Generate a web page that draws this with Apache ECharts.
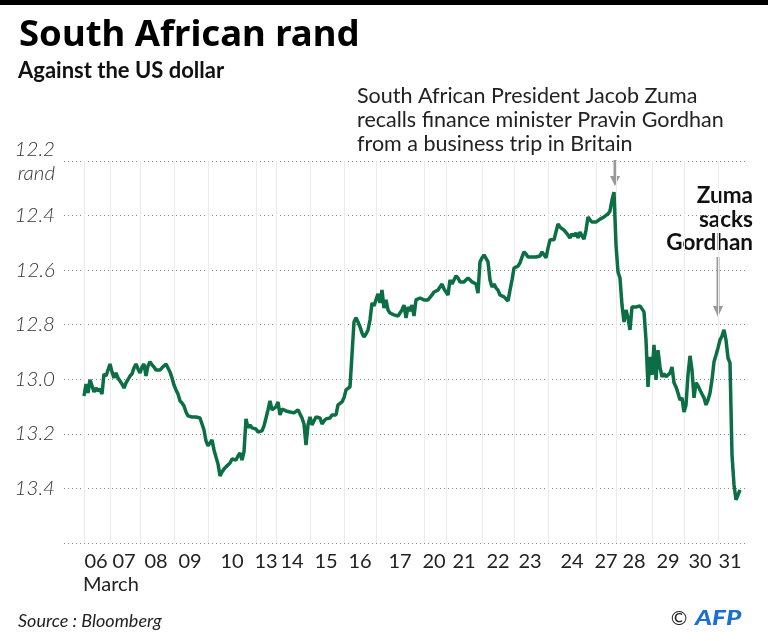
<!DOCTYPE html>
<html><head><meta charset="utf-8">
<script src="https://cdn.jsdelivr.net/npm/echarts@6/dist/echarts.min.js"></script>
<style>html,body{margin:0;padding:0;background:#fff}#c{width:768px;height:641px}</style>
</head><body><div id="c"></div>
<script>
// Trading days shown on the x axis (March)
const days = ['06','07','08','09','10','13','14','15','16','17','20','21','22','23','24','27','28','29','30','31'];
// Rand per US dollar, intraday observations for each trading day
const d06 = [13.061,13.017,13.050,13.002,12.999,13.046,13.032,13.043,13.035,13.054,12.980,12.988,12.984];
const d07 = [12.944,12.973,12.995,12.977,12.995,13.002,13.017,13.032,13.013,13.010,12.988,12.980,12.958,12.944,12.962];
const d08 = [12.977,12.955,12.944,12.988,12.951,12.936,12.947,12.955,12.966,12.966,12.966,12.958,12.951,12.944,12.944,12.973,12.995];
const d09 = [13.021,13.039,13.054,13.079,13.087,13.098,13.120,13.134,13.138,13.138,13.138,13.138,13.142,13.142,13.145,13.186,13.226];
const d10 = [13.244,13.241,13.222,13.259,13.285,13.310,13.354,13.340,13.329,13.321,13.314,13.307,13.292,13.285,13.296,13.281,13.270,13.296,13.266,13.145,13.178,13.167,13.178,13.171];
const d13 = [13.182,13.193,13.193,13.189,13.171,13.142,13.112,13.079,13.112,13.105];
const d14 = [13.101,13.083,13.131,13.109,13.112,13.116,13.116,13.120,13.123,13.123,13.123,13.112,13.127,13.142,13.164,13.241,13.167];
const d15 = [13.138,13.167,13.171,13.138,13.145,13.142,13.164,13.153,13.145,13.138,13.142,13.131,13.131,13.131,13.094,13.094,13.083];
const d16 = [13.068,13.039,13.032,13.028,13.024,12.790,12.775,12.790,12.808,12.830,12.845,12.834,12.819,12.783,12.720,12.731];
const d17 = [12.735,12.687,12.720,12.673,12.739,12.709,12.746,12.757,12.761,12.764,12.768,12.768,12.764,12.746,12.728,12.775,12.735,12.750,12.728,12.768,12.709,12.702,12.702,12.706];
const d20 = [12.709,12.713,12.709,12.709,12.691,12.680,12.673,12.673,12.673,12.651,12.669];
const d21 = [12.662,12.691,12.636,12.651,12.636,12.621,12.629,12.643,12.640,12.643,12.640,12.629,12.636,12.643,12.647,12.651,12.684,12.570];
const d22 = [12.555,12.544,12.548,12.570,12.636,12.662,12.651,12.665,12.673,12.691,12.695,12.698,12.702,12.713,12.673,12.636];
const d23 = [12.592,12.592,12.585,12.574,12.552,12.533,12.541,12.552,12.555,12.552,12.552,12.552,12.552,12.548,12.533,12.526,12.555];
const d24 = [12.519,12.489,12.482,12.489,12.460,12.431,12.442,12.445,12.453,12.460,12.471,12.482,12.467,12.475,12.464,12.482,12.460,12.475,12.486,12.453,12.405,12.416,12.424,12.427];
const d27 = [12.424,12.420,12.413,12.409,12.405,12.398,12.394,12.383,12.343,12.314];
const d28 = [12.508,12.607,12.629,12.728,12.790,12.746,12.775,12.819,12.735,12.728,12.735,12.731,12.731,12.735,12.753,12.856,13.028,12.918];
const d29 = [12.984,12.874,13.002,12.893,12.955,12.991,12.980,12.991,12.984,12.977,12.955,13.013,13.028,13.050,13.076,13.068];
const d30 = [13.120,13.094,12.984,12.914,12.966,13.068,13.013,13.024,13.039,13.054,13.068,13.094,13.076,13.050,13.002,12.936,12.911];
const d31 = [12.885,12.856,12.841,12.819,12.856,12.922,12.940,13.277,13.387,13.442,13.424,13.405];
const dayValues = [d06,d07,d08,d09,d10,d13,d14,d15,d16,d17,d20,d21,d22,d23,d24,d27,d28,d29,d30,d31];
// Y axis ticks
const yTicks = [12.2,12.4,12.6,12.8,13.0,13.2,13.4,13.6];

const PAD_START = 10, PAD_END = 3;
const cats = [], vals = [], dayStart = new Set(), labelAt = {};
for (let i = 0; i < PAD_START; i++) { cats.push('pre' + i); vals.push(null); }
dayValues.forEach((arr, di) => {
  const s = cats.length;
  dayStart.add(s);
  labelAt[s + Math.floor(arr.length / 2)] = days[di];
  arr.forEach((v, k) => { cats.push(days[di] + '-' + k); vals.push(v); });
});
for (let i = 0; i < PAD_END; i++) { cats.push('post' + i); vals.push(null); }

const FONT = 'Lato, "Source Sans Pro", "Noto Sans", sans-serif';
const TFONT = '"Noto Sans", "Open Sans", sans-serif';
const chart = echarts.init(document.getElementById('c'), null, {renderer: 'canvas'});
chart.setOption({
  animation: false,
  backgroundColor: '#fff',
  grid: {left: 64, right: 22, top: 161, bottom: 98, containLabel: false},
  xAxis: {
    type: 'category', data: cats, boundaryGap: false,
    axisLine: {show: false}, axisTick: {show: false},
    axisLabel: {
      interval: (idx) => labelAt[idx] !== undefined,
      formatter: (v, idx) => labelAt[idx] || '',
      color: '#222', fontSize: 20, fontFamily: FONT, margin: 9
    },
    splitLine: {show: true, interval: (idx) => dayStart.has(idx), lineStyle: {color: '#ebebeb', width: 1}}
  },
  yAxis: {
    type: 'value', inverse: true, min: yTicks[0], max: yTicks[yTicks.length - 1], interval: 0.2,
    axisLine: {show: false}, axisTick: {show: false},
    axisLabel: {
      margin: 9, color: '#333', fontSize: 20.5, fontStyle: 'italic', fontWeight: 300, fontFamily: FONT, lineHeight: 24,
      formatter: (v) => {
        if (Math.abs(v - yTicks[0]) < 1e-6) return yTicks[0].toFixed(1) + '\nrand';
        if (Math.abs(v - yTicks[yTicks.length - 1]) < 1e-6) return '';
        return v.toFixed(1);
      }
    },
    splitLine: {show: true, lineStyle: {color: '#8a8a8a', width: 1, type: [1, 3]}}
  },
  series: [{
    type: 'line', data: vals, showSymbol: false, connectNulls: false,
    lineStyle: {color: '#0b6e45', width: 3.5}, itemStyle: {color: '#0b6e45'}
  }],
  graphic: [
    {type: 'rect', shape: {x: 0, y: 0, width: 768, height: 5}, style: {fill: '#000'}},
    {type: 'text', x: 19, y: 36, style: {text: 'South African rand', fill: '#000', font: 'bold 36.5px ' + TFONT, textAlign: 'left', textVerticalAlign: 'middle'}},
    {type: 'text', x: 18, y: 60, style: {text: 'Against the US dollar', fill: '#111', font: 'bold 22px ' + FONT, textAlign: 'left', textVerticalAlign: 'top'}},
    {type: 'text', x: 357, y: 84, style: {text: 'South African President Jacob Zuma\nrecalls finance minister Pravin Gordhan\nfrom a business trip in Britain', fill: '#222', font: '21.5px ' + FONT, lineHeight: 24, textAlign: 'left', textVerticalAlign: 'top'}},
    {type: 'text', x: 753, y: 184, style: {text: 'Zuma\nsacks\nGordhan', fill: '#111', font: 'bold 22.5px ' + FONT, lineHeight: 23.5, textAlign: 'right', textVerticalAlign: 'top'}},
    {type: 'line', shape: {x1: 615, y1: 160, x2: 615, y2: 178}, style: {stroke: '#999', lineWidth: 3}},
    {type: 'polygon', shape: {points: [[610, 176], [620, 176], [615, 186]]}, style: {fill: '#999'}},
    {type: 'line', shape: {x1: 718, y1: 257, x2: 718, y2: 308}, style: {stroke: '#999', lineWidth: 3}},
    {type: 'polygon', shape: {points: [[713, 306], [723, 306], [718, 317]]}, style: {fill: '#999'}},
    {type: 'text', x: 83, y: 585, style: {text: 'March', fill: '#222', font: '20px ' + FONT, textAlign: 'left', textVerticalAlign: 'middle'}},
    {type: 'text', x: 18, y: 621, style: {text: 'Source : Bloomberg', fill: '#222', font: 'italic 18px ' + FONT, textAlign: 'left', textVerticalAlign: 'middle'}},
    {type: 'text', x: 679, y: 619, style: {text: '©', fill: '#222', font: '20px ' + FONT, textAlign: 'center', textVerticalAlign: 'middle'}},
    {type: 'text', x: 695, y: 619, scaleX: 1.3, originX: 0, originY: 0, style: {text: 'AFP', fill: '#1a6fd0', font: 'italic 900 20px ' + FONT, textAlign: 'left', textVerticalAlign: 'middle'}}
  ]
});
</script></body></html>
